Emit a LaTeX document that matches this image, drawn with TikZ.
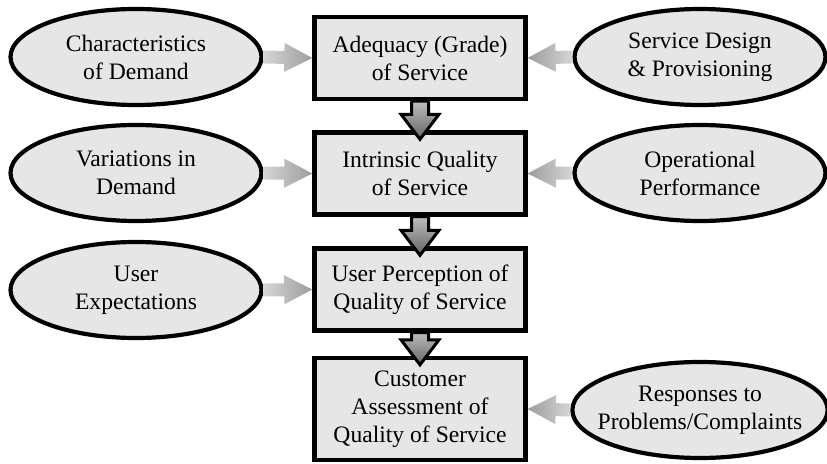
\documentclass[tikz,border=0pt]{standalone}
\usepackage{fontspec}
\setmainfont{Liberation Serif}
\usepackage{xcolor}
\usepackage{tikz}
\usetikzlibrary{calc, shapes.geometric}
\definecolor{panel}{HTML}{E6E6E6}
\definecolor{feedlight}{HTML}{D6D6D6}
\definecolor{feeddark}{HTML}{9C9C9C}
\definecolor{flowtop}{HTML}{BDBDBD}
\definecolor{flowbottom}{HTML}{646464}

\begin{document}
\begin{tikzpicture}[
    x=0.5pt, y=-0.5pt,
    label font/.style={font=\fontsize{11.8}{14}\selectfont},
    factor/.style={draw, ellipse, line width=2.1pt, fill=panel, align=center, minimum width=125.5pt, minimum height=48pt, inner xsep=-6pt, inner ysep=0pt, label font},
    stage/.style={draw, rectangle, line width=2.2pt, fill=panel, align=center, minimum width=105.5pt, minimum height=41pt, inner sep=0pt, label font},
    % block arrow between two points: shaft half width, head half width, head length
    blockarrow/.style n args={3}{to path={
        ($(\tikztotarget)!#3!(\tikztostart)$) coordinate (headbase)
        ($(\tikztostart)!#1!90:(\tikztotarget)$) -- ($(headbase)!#1!-90:(\tikztostart)$)
        -- ($(headbase)!#2!-90:(\tikztostart)$) -- (\tikztotarget)
        -- ($(headbase)!#2!90:(\tikztostart)$) -- ($(headbase)!#1!90:(\tikztostart)$)
        -- ($(\tikztostart)!#1!-90:(\tikztotarget)$) -- cycle}},
    feed/.style={blockarrow={3.25pt}{7.25pt}{14pt}, left color=feedlight, right color=feeddark},
    feedback/.style={blockarrow={3.25pt}{7.25pt}{14pt}, left color=feeddark, right color=feedlight},
    flow/.style={blockarrow={4.25pt}{9.5pt}{12.5pt}, draw, line width=1.5pt, line join=miter, top color=flowtop, bottom color=flowbottom}
]
\useasboundingbox (0,0) rectangle (827,464);

% central chain
\node[stage] (adequacy) at (420,58) {Adequacy (Grade)\\of Service};
\node[stage] (intrinsic) at (420,173.5) {Intrinsic Quality\\of Service};
\node[stage] (perception) at (420,289.5) {User Perception of\\Quality of Service};
\node[stage, minimum height=51pt] (assessment) at (420,409) {Customer\\Assessment of\\Quality of Service};

% influences on the left
\node[factor] (demand) at (136,57) {Characteristics\\of Demand};
\node[factor] (variation) at (136,173) {Variations in\\Demand};
\node[factor] (expect) at (136,290) {User\\Expectations};

% influences on the right
\node[factor] (design) at (700,57) {Service Design\\\& Provisioning};
\node[factor] (operation) at (700,173) {Operational\\Performance};
\node[factor] (complaints) at (700,410) {Responses to\\Problems/Complaints};

\path[feed] (demand.east) to (adequacy.west);
\path[feed] (variation.east) to (intrinsic.west);
\path[feed] (expect.east) to (perception.west);
\path[feedback] (design.west) to (adequacy.east);
\path[feedback] (operation.west) to (intrinsic.east);
\path[feedback] (complaints.west) to (assessment.east);

\draw[flow] (adequacy.south) to ([yshift=-4.5pt]intrinsic.north);
\draw[flow] (intrinsic.south) to ([yshift=-4.5pt]perception.north);
\draw[flow] (perception.south) to ([yshift=-4.5pt]assessment.north);
\end{tikzpicture}
\end{document}
